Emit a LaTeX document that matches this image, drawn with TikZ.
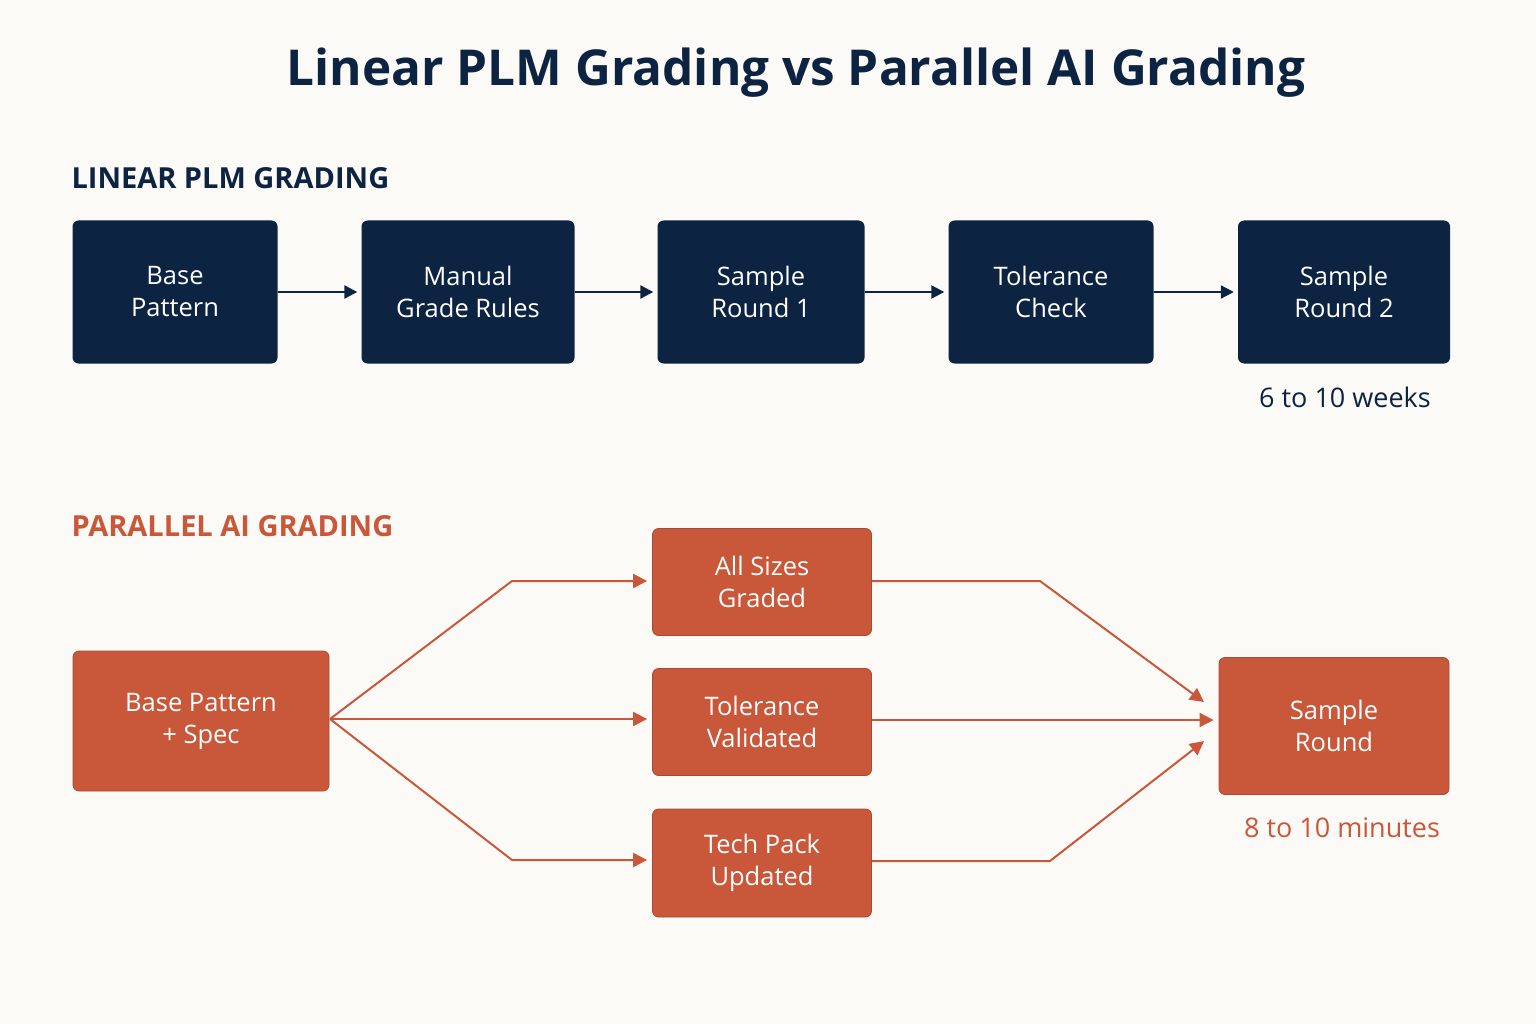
\documentclass[tikz,border=0pt]{standalone}
\usepackage{fontspec}
\setmainfont{Open Sans}
\usetikzlibrary{arrows.meta}
\definecolor{navy}{HTML}{0C2342}
\definecolor{rust}{HTML}{C9573A}
\definecolor{bg}{HTML}{FCFAF7}
\begin{document}
\begin{tikzpicture}[x=1pt,y=-1pt,
 nbox/.style={fill=navy,rounded corners=6pt,text=white,align=center,font=\fontsize{25.5}{32}\selectfont,inner sep=0pt},
 obox/.style={fill=rust,draw=rust!85!black,line width=0.8pt,rounded corners=6pt,text=white,align=center,font=\fontsize{25.5}{32}\selectfont,inner sep=0pt},
 narr/.style={draw=navy,line width=2.2pt,shorten >=4pt,-{Triangle[length=13pt,width=13pt]}},
 oarr/.style={draw=rust,line width=2pt,shorten >=5pt,-{Triangle[length=14pt,width=14pt]}}]
\fill[bg] (0,0) rectangle (1536,1024);
\useasboundingbox (0,0) rectangle (1536,1024);
\node[text=navy,font=\fontsize{49.5}{56}\selectfont\bfseries] (title) at (796,73) {Linear PLM Grading vs Parallel AI Grading};
\node[anchor=west,text=navy,font=\fontsize{29}{34}\selectfont\bfseries] (h1) at (68,178) {LINEAR PLM GRADING};
\node[anchor=west,text=rust,font=\fontsize{29}{34}\selectfont\bfseries] (h2) at (68,526) {PARALLEL AI GRADING};
% top row
\node[nbox,minimum width=205,minimum height=143] (a1) at (175,292) {Base\\Pattern};
\node[nbox,minimum width=213,minimum height=143] (a2) at (468,292) {Manual\\Grade Rules};
\node[nbox,minimum width=207,minimum height=143] (a3) at (761,292) {Sample\\Round 1};
\node[nbox,minimum width=205,minimum height=143] (a4) at (1051,292) {Tolerance\\Check};
\node[nbox,minimum width=212,minimum height=143] (a5) at (1344,292) {Sample\\Round 2};
\draw[narr] (a1) -- (a2);
\draw[narr] (a2) -- (a3);
\draw[narr] (a3) -- (a4);
\draw[narr] (a4) -- (a5);
\node[text=navy,font=\fontsize{27}{30}\selectfont] (t1) at (1345,397) {6 to 10 weeks};
% bottom
\node[obox,minimum width=256,minimum height=140] (b0) at (201,721) {Base Pattern\\+ Spec};
\node[obox,minimum width=219,minimum height=107] (b1) at (762,582) {All Sizes\\Graded};
\node[obox,minimum width=219,minimum height=107] (b2) at (762,722) {Tolerance\\Validated};
\node[obox,minimum width=219,minimum height=108] (b3) at (762,863) {Tech Pack\\Updated};
\node[obox,minimum width=230,minimum height=137] (b4) at (1334,726) {Sample\\Round};
\coordinate (s) at (330,719);
\draw[oarr] (s) -- (512,581) -- (b1.west |- 0,581);
\draw[oarr] (s) -- (b2.west |- 0,719);
\draw[oarr] (s) -- (512,860) -- (b3.west |- 0,860);
\draw[oarr] (b1.east |- 0,581) -- (1040,581) -- (1208,705);
\draw[oarr] (b2.east |- 0,720) -- (b4.west |- 0,720);
\draw[oarr] (b3.east |- 0,861) -- (1050,861) -- (1208,738);
\node[text=rust,font=\fontsize{27}{30}\selectfont] (t2) at (1342,828) {8 to 10 minutes};
\end{tikzpicture}
\end{document}
